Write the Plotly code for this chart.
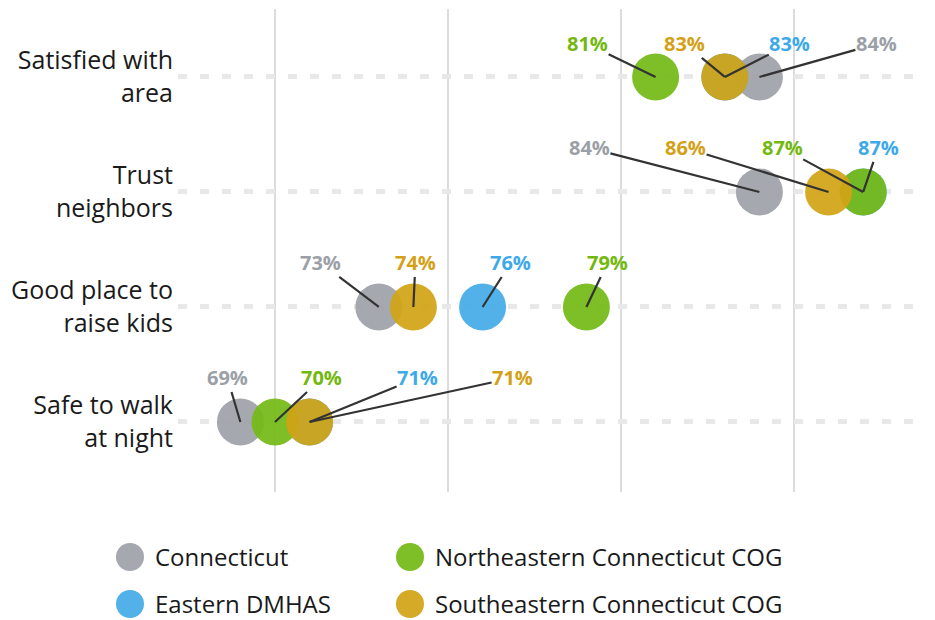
import plotly.graph_objects as go

# Survey measures (top to bottom) and share of residents agreeing, in percent
measures = ["Satisfied with area", "Trust neighbors", "Good place to raise kids", "Safe to walk at night"]
tick_labels = ["Satisfied with<br>area", "Trust<br>neighbors", "Good place to<br>raise kids", "Safe to walk<br>at night"]

series_names = ["Connecticut", "Eastern DMHAS", "Northeastern Connecticut COG", "Southeastern Connecticut COG"]
connecticut = [84, 84, 73, 69]
eastern_dmhas = [83, 87, 76, 71]
northeastern_cog = [81, 87, 79, 70]
southeastern_cog = [83, 86, 74, 71]

series_values = [connecticut, eastern_dmhas, northeastern_cog, southeastern_cog]
marker_colors = ["#9ea3a9", "#45abe6", "#74b916", "#d2a416"]
label_colors = ["#9ba0a7", "#3ea9e8", "#72b80f", "#d4a017"]

# Pixel offsets of each value label from its dot (series x measure), so leader lines don't cross
label_dx = [
    [117, -170, -58, -13],   # Connecticut
    [65, 15, 28, 108],       # Eastern DMHAS
    [-68, -81, 21, 47],      # Northeastern
    [-40, -143, 2, 203],     # Southeastern
]
label_dy = [-33, -44, -44, -44]

FONT = "Open Sans"
W, H = 935, 620

# numeric row positions: first measure on top
ypos = [len(measures) - 1 - i for i in range(len(measures))]

fig = go.Figure()
annotations = []
for s, (name, vals) in enumerate(zip(series_names, series_values)):
    fig.add_trace(go.Scatter(
        x=vals, y=ypos, mode="markers", name=name, showlegend=False,
        marker=dict(size=47, color=marker_colors[s], opacity=0.93, line=dict(width=0)),
        hovertemplate=name + "<br>%{x}%<extra></extra>",
    ))
    for m, v in enumerate(vals):
        annotations.append(dict(
            x=v, y=ypos[m], xref="x", yref="y",
            ax=label_dx[s][m], ay=label_dy[m],
            text=f"<b>{v}%</b>", showarrow=True, arrowhead=0,
            arrowwidth=2.2, arrowcolor="#333333", standoff=0, startstandoff=0,
            font=dict(family=FONT, size=20, color=label_colors[s]),
            borderpad=0,
        ))

# Legend: two columns of large dots with names
legend_slots = [(130, 557), (130, 604), (410, 557), (410, 604)]
shapes = []
for s, name in enumerate(series_names):
    cx, cy = legend_slots[s]
    shapes.append(dict(
        type="circle", xref="paper", yref="paper",
        xsizemode="pixel", ysizemode="pixel",
        xanchor=cx / W, yanchor=1 - cy / H,
        x0=-14, x1=14, y0=-14, y1=14,
        fillcolor=marker_colors[s], line=dict(width=0), opacity=0.93,
    ))
    annotations.append(dict(
        x=(cx + 23) / W, y=1 - (cy - 1) / H, xref="paper", yref="paper",
        xanchor="left", yanchor="middle", showarrow=False,
        text=name, font=dict(family=FONT, size=24, color="#1a1a1a"),
    ))

fig.update_layout(
    width=W, height=H,
    margin=dict(l=0, r=0, t=0, b=0),
    paper_bgcolor="white", plot_bgcolor="white",
    showlegend=False,
    annotations=annotations, shapes=shapes,
    font=dict(family=FONT, color="#1a1a1a"),
    xaxis=dict(
        domain=[178 / W, 925 / W], range=[67.197, 88.786],
        tickvals=[70, 75, 80, 85], showticklabels=False, ticks="",
        showgrid=True, gridcolor="#dcdcdc", gridwidth=2,
        zeroline=False, showline=False, fixedrange=True,
    ),
    yaxis=dict(
        domain=[(H - 492) / H, (H - 9) / H], range=[-0.609, 3.591],
        tickvals=ypos, ticktext=tick_labels, ticks="",
        tickfont=dict(family=FONT, size=25, color="#1a1a1a"),
        ticklabelstandoff=4,
        showgrid=True, gridcolor="#e8e8e8", gridwidth=5, griddash="9px,13px",
        zeroline=False, showline=False, fixedrange=True,
    ),
)

fig.write_html("out.html")
